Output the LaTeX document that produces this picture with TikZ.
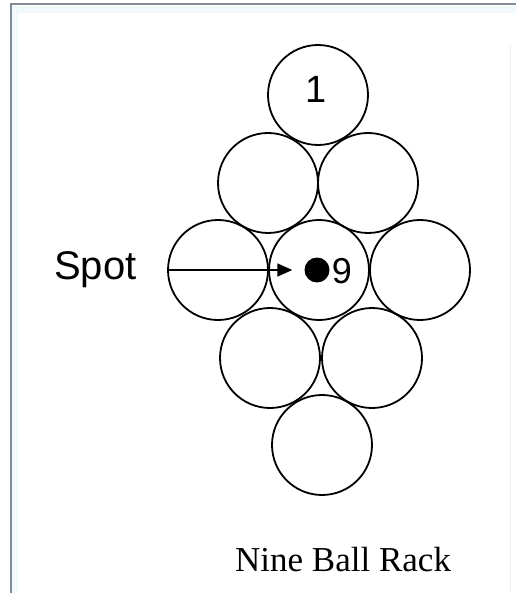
\documentclass[tikz,border=0pt]{standalone}
\usepackage{fontspec}
\setmainfont{Liberation Sans}
\newfontfamily\captionserif{Liberation Serif}
\usetikzlibrary{arrows.meta}

\definecolor{frameline}{RGB}{128,140,152}
\definecolor{framepale}{RGB}{242,249,252}

\tikzset{
  ball/.style={circle, draw=black, line width=1.8pt, minimum size=100pt, inner sep=0pt},
  balllabel/.style={inner sep=0pt, font=\fontsize{38}{40}\selectfont},
  spotdot/.style={circle, fill=black, minimum size=25pt, inner sep=0pt},
  pointer/.style={line width=1.6pt, -{Triangle[length=15pt,width=13pt]}},
}

\begin{document}
\begin{tikzpicture}[x=1pt, y=-1pt]
  % page area
  \useasboundingbox (0,0) rectangle (516,593);
  \fill[white] (0,0) rectangle (516,593);

  % window frame on the top and left
  \fill[framepale] (12,6) rectangle (516,13);
  \fill[framepale] (12,6) rectangle (18,593);
  \draw[frameline, line width=2pt] (11,593) -- (11,4.5) -- (516,4.5);
  \draw[black!5, line width=0.8pt] (510,44) -- (510,593);

  % the rack: nine balls in a diamond
  \node[ball] (b1) at (318,95) {};
  \node[ball] (b2) at (268,183) {};
  \node[ball] (b3) at (368,183) {};
  \node[ball] (b4) at (218,270) {};
  \node[ball] (b5) at (319,270) {};
  \node[ball] (b6) at (420,270) {};
  \node[ball] (b7) at (270,358) {};
  \node[ball] (b8) at (372,358) {};
  \node[ball] (b9) at (322,445) {};

  % ball numbers
  \node[balllabel] (n1) at (316,89) {1};
  \node[balllabel, font=\fontsize{36}{38}\selectfont] (n9) at (342,271) {9};

  % foot spot and its pointer
  \node[spotdot] (spot) at (317,270) {};
  \node[inner sep=0pt, anchor=base west, font=\fontsize{40}{44}\selectfont] (spotlabel) at (54,279) {Spot};
  \draw[pointer, shorten >=12pt] (b4.west) -- (spot.west);

  % caption
  \node[inner sep=0pt, anchor=base west, font=\captionserif\fontsize{35}{38}\selectfont] (caption) at (235,571) {Nine Ball Rack};
\end{tikzpicture}
\end{document}
